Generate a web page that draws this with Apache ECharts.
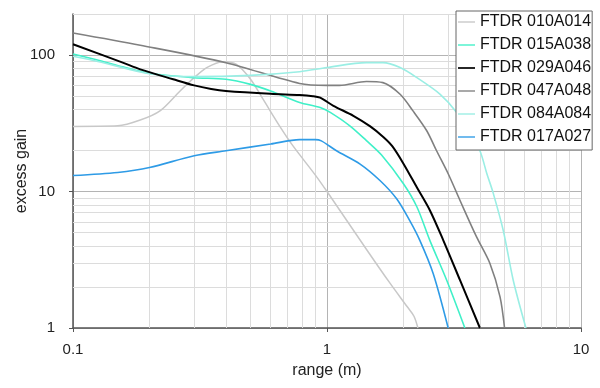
<!DOCTYPE html>
<html>
<head>
<meta charset="utf-8">
<script src="https://cdn.jsdelivr.net/npm/echarts@6/dist/echarts.min.js"></script>
<style>
html,body{margin:0;padding:0;background:#fff;}
#chart{width:600px;height:388px;}
</style>
</head>
<body>
<div id="chart"></div>
<script>
// ---- data ----
const seriesNames = ['FTDR 010A014','FTDR 015A038','FTDR 029A046','FTDR 047A048','FTDR 084A084','FTDR 017A027'];
const seriesColors = ['#c8c8c8','#40f0c8','#000000','#808080','#9aeee4','#2e9be6'];

const x010 = [0.1, 0.15, 0.184, 0.22, 0.264, 0.3, 0.336, 0.39, 0.44, 0.5, 0.56, 0.65, 0.736, 0.9, 1.0, 1.44, 1.77, 2.07, 2.2, 2.28];
const y010 = [30, 30.3, 33.4, 39, 54.6, 68.3, 81, 89.5, 85.5, 66.5, 47.5, 30.3, 21.5, 13.2, 10, 3.7, 2.13, 1.43, 1.22, 1];

const x015 = [0.1, 0.128, 0.157, 0.2, 0.3, 0.4, 0.5, 0.6, 0.78, 0.94, 1.03, 1.23, 1.43, 1.64, 2.0, 2.26, 2.54, 2.96, 3.49];
const y015 = [102, 91, 82, 73.5, 68.3, 66.5, 61, 54.6, 45, 41.3, 38, 30.3, 23.6, 18.5, 11.4, 7.7, 4.39, 2.24, 1];

const x029 = [0.1, 0.157, 0.184, 0.248, 0.3, 0.35, 0.4, 0.6, 0.78, 0.88, 0.94, 1.06, 1.27, 1.48, 1.67, 1.81, 2.0, 2.26, 2.54, 2.87, 3.34, 4.0];
const y029 = [120, 88, 78.6, 66.5, 60, 56.5, 54.6, 52, 51, 50, 48.7, 42.5, 35.9, 30, 25, 21.4, 16, 10.7, 7.3, 4.39, 2.24, 1];

const x047 = [0.1, 0.184, 0.4, 0.78, 1.0, 1.12, 1.43, 1.66, 1.94, 2.18, 2.47, 2.7, 3.0, 3.34, 3.88, 4.38, 4.8, 5.0];
const y047 = [145, 118, 88, 62, 60, 60, 64, 62.8, 51.6, 39, 27.9, 19.9, 13.5, 8.6, 4.65, 2.97, 1.69, 1];

const x084 = [0.1, 0.128, 0.2, 0.3, 0.5, 0.78, 1.0, 1.43, 1.66, 1.94, 2.26, 2.79, 3.24, 3.66, 4.0, 4.26, 4.5, 4.94, 5.41, 6.07];
const y084 = [98, 89, 73, 69.5, 71, 75.5, 81, 88, 88, 81, 68.3, 51.6, 38, 26.4, 19.9, 13.5, 9.9, 5.2, 2.24, 1];

const x017 = [0.1, 0.15, 0.2, 0.3, 0.4, 0.6, 0.78, 0.9, 0.95, 1.09, 1.35, 1.62, 1.88, 2.12, 2.32, 2.62, 3.0];
const y017 = [13.1, 13.8, 15, 18.3, 19.9, 22.3, 24, 24, 23.5, 19.9, 15.9, 12.0, 8.85, 6.1, 4.39, 2.5, 1];

const xMinor = [0.2,0.3,0.4,0.5,0.6,0.7,0.8,0.9,2,3,4,5,6,7,8,9];
const yMinor = [2,3,4,5,6,7,8,9,20,30,40,50,60,70,80,90,200];

const xs = [x010, x015, x029, x047, x084, x017];
const ys = [y010, y015, y029, y047, y084, y017];
const widths = [1.5, 1.6, 2, 1.6, 1.6, 1.6];

const font = 'Liberation Sans, Arial, sans-serif';

const series = seriesNames.map((n, i) => ({
  name: n,
  type: 'line',
  data: xs[i].map((x, j) => [x, ys[i][j]]),
  smooth: 0.3,
  symbol: 'none',
  showSymbol: false,
  lineStyle: { color: seriesColors[i], width: widths[i] },
  itemStyle: { color: seriesColors[i] },
  z: 3 + (i === 2 ? 2 : 0)
}));

series.unshift({
  name: 'minor-grid',
  type: 'line',
  data: [],
  symbol: 'none',
  silent: true,
  z: 1,
  markLine: {
    z: 1,
    silent: true,
    symbol: 'none',
    animation: false,
    label: { show: false },
    lineStyle: { color: '#dcdcdc', width: 1, type: 'solid' },
    emphasis: { disabled: true },
    data: xMinor.map(v => ({ xAxis: v })).concat(yMinor.map(v => ({ yAxis: v })))
  }
});

const chart = echarts.init(document.getElementById('chart'), null, { renderer: 'canvas' });
chart.setOption({
  animation: false,
  backgroundColor: '#ffffff',
  textStyle: { fontFamily: font },
  grid: { left: 73, right: 19, top: 14, bottom: 60 },
  legend: {
    z: 20,
    data: seriesNames.map((n, i) => ({
      name: n,
      icon: 'path://M0,0H20V' + (i === 2 ? '2' : '1.6') + 'H0Z',
      itemStyle: { color: seriesColors[i] }
    })),
    orient: 'vertical',
    left: 456,
    top: 11,
    padding: [3, 1, 5, 2],
    itemWidth: 17,
    itemHeight: 16,
    itemGap: 7,
    symbolKeepAspect: true,
    backgroundColor: '#ffffff',
    borderColor: '#666666',
    borderWidth: 1,
    textStyle: { fontFamily: font, fontSize: 16, color: '#111', lineHeight: 16 },
    selectedMode: false
  },
  xAxis: {
    type: 'log',
    logBase: 10,
    min: 0.1,
    max: 10,
    name: 'range (m)',
    nameLocation: 'middle',
    nameGap: 35,
    nameMoveOverlap: false,
    nameTextStyle: { fontFamily: font, fontSize: 16, color: '#222' },
    axisLine: { show: true, lineStyle: { color: '#555', width: 1.5 } },
    axisTick: { show: true, length: 4, lineStyle: { color: '#555' } },
    axisLabel: { fontFamily: font, fontSize: 15, color: '#222', margin: 14 },
    splitLine: { show: true, lineStyle: { color: '#b4b4b4', width: 1 } },
    minorTick: { show: false },
    minorSplitLine: { show: false }
  },
  yAxis: {
    type: 'log',
    logBase: 10,
    min: 1,
    max: 200,
    name: 'excess gain',
    nameLocation: 'middle',
    nameGap: 43,
    nameMoveOverlap: false,
    nameRotate: 90,
    nameTextStyle: { fontFamily: font, fontSize: 16, color: '#222' },
    axisLine: { show: true, lineStyle: { color: '#555', width: 1.5 } },
    axisTick: { show: true, length: 4, lineStyle: { color: '#555' } },
    axisLabel: { fontFamily: font, fontSize: 15, color: '#222', margin: 18, showMaxLabel: false },
    splitLine: { show: true, lineStyle: { color: ['#b4b4b4','#b4b4b4','#b4b4b4','#dcdcdc'], width: 1 } }
  },
  series: series
});
</script>
</body>
</html>
